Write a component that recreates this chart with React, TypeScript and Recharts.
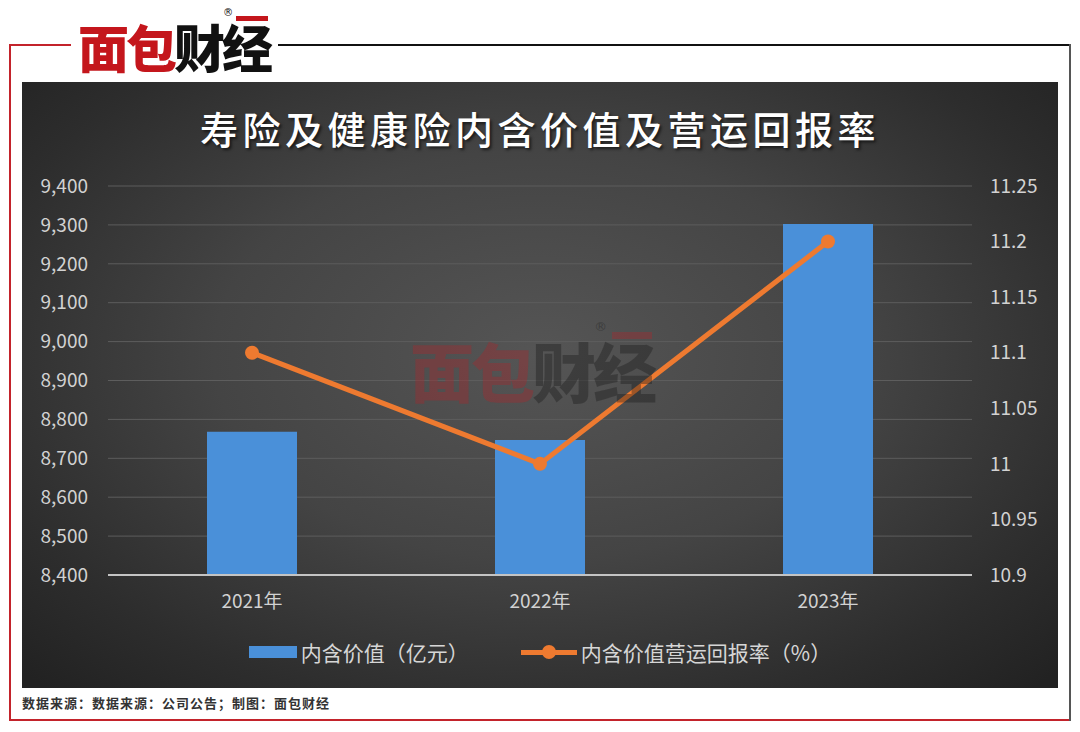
import { Bar, CartesianGrid, ComposedChart, Line, XAxis, YAxis } from "recharts";

const years = ["2021年", "2022年", "2023年"];
const embeddedValue = [8768, 8747, 9302];
const operatingReturn = [11.1, 11.0, 11.2];
const leftTicks = [8400, 8500, 8600, 8700, 8800, 8900, 9000, 9100, 9200, 9300, 9400];
const rightTicks = [10.9, 10.95, 11, 11.05, 11.1, 11.15, 11.2, 11.25];

const barName = "内含价值（亿元）";
const lineName = "内含价值营运回报率（%）";
const title = "寿险及健康险内含价值及营运回报率";
const footer = "数据来源：数据来源：公司公告；制图：面包财经";

const chartData = years.map((year, i) => ({
  year,
  ev: embeddedValue[i],
  rate: operatingReturn[i],
}));

const FONT = '"Noto Sans CJK SC", "Noto Sans", sans-serif';
const LOGO_FONT = '"DejaVu Sans", "Noto Sans CJK SC", sans-serif';
const BLUE = "#4a90d9";
const ORANGE = "#ee7a30";
const TICK = { fill: "#d2d2d2", fontSize: 19, fontFamily: FONT };

// brand mark, drawn as text
function Logo({ size, red, dark, left, top }: { size: number; red: string; dark: string; left: number; top: number }) {
  return (
    <div
      style={{
        position: "absolute",
        left,
        top,
        fontFamily: LOGO_FONT,
        fontWeight: 900,
        fontSize: size,
        lineHeight: `${size}px`,
        letterSpacing: -3,
        whiteSpace: "nowrap",
        pointerEvents: "none",
      }}
    >
      <span style={{ color: red }}>面包</span>
      <span style={{ color: dark }}>财经</span>
      <span
        style={{
          position: "absolute",
          right: size * 0.78,
          top: -size * 0.34,
          fontSize: size * 0.2,
          lineHeight: 1,
          fontWeight: 400,
          color: dark,
        }}
      >
        ®
      </span>
      <span
        style={{
          position: "absolute",
          right: 2,
          top: -size * 0.17,
          width: size * 0.62,
          height: size * 0.1,
          background: red,
        }}
      />
    </div>
  );
}

export default function App() {
  return (
    <div
      style={{
        position: "absolute",
        left: 0,
        top: 0,
        width: 1080,
        height: 732,
        background: "#fff",
        overflow: "hidden",
        fontFamily: FONT,
      }}
    >
      {/* frame */}
      <div style={{ position: "absolute", left: 9, top: 44, width: 62, height: 2, background: "#c3232b" }} />
      <div style={{ position: "absolute", left: 9, top: 44, width: 2, height: 677, background: "#c3232b" }} />
      <div style={{ position: "absolute", left: 9, top: 719, width: 1062, height: 2, background: "#c3232b" }} />
      <div style={{ position: "absolute", left: 278, top: 44, width: 793, height: 2, background: "#111" }} />
      <div style={{ position: "absolute", left: 1069, top: 44, width: 2, height: 677, background: "#555" }} />

      <Logo size={51} red="#c4161c" dark="#111" left={78} top={25} />

      {/* dark panel */}
      <div
        style={{
          position: "absolute",
          left: 22,
          top: 82,
          width: 1036,
          height: 606,
          background: "radial-gradient(ellipse 70% 75% at 50% 45%, #555 0%, #444 45%, #2d2d2d 80%, #222 100%)",
        }}
      >
        <div
          style={{
            position: "absolute",
            left: 0,
            top: 22,
            width: 1036,
            textAlign: "center",
            color: "#fff",
            fontSize: 38,
            lineHeight: "48px",
            fontWeight: 500,
            letterSpacing: 4.5,
            textShadow: "2px 2px 3px rgba(0,0,0,0.6)",
          }}
        >
          {title}
        </div>

        <ComposedChart
          width={1036}
          height={606}
          data={chartData}
          margin={{ top: 104, right: 0, bottom: 0, left: 0 }}
          barCategoryGap="34%"
        >
          <CartesianGrid yAxisId="left" vertical={false} stroke="#5d5d5d" strokeWidth={1} />
          <XAxis
            dataKey="year"
            height={113}
            tick={TICK}
            tickLine={false}
            tickSize={6}
            tickMargin={14}
            axisLine={{ stroke: "#c4c4c4", strokeWidth: 2 }}
          />
          <YAxis
            yAxisId="left"
            width={86}
            domain={[8400, 9400]}
            ticks={leftTicks}
            tick={TICK}
            tickLine={false}
            axisLine={false}
            tickMargin={14}
            tickFormatter={(v: number) => v.toLocaleString("en-US")}
          />
          <YAxis
            yAxisId="right"
            orientation="right"
            width={86}
            domain={[10.9, 11.25]}
            ticks={rightTicks}
            tick={{ ...TICK, textAnchor: "start" }}
            tickLine={false}
            axisLine={false}
            tickMargin={12}
            tickFormatter={(v: number) => String(Number(v.toFixed(2)))}
          />
          <Bar yAxisId="left" dataKey="ev" name={barName} fill={BLUE} barSize={90} isAnimationActive={false} />
          <Line
            yAxisId="right"
            dataKey="rate"
            name={lineName}
            type="linear"
            stroke={ORANGE}
            strokeWidth={5}
            dot={{ r: 7, fill: ORANGE, stroke: "none" }}
            activeDot={false}
            isAnimationActive={false}
          />
        </ComposedChart>

        {/* legend */}
        <div
          style={{
            position: "absolute",
            left: 0,
            top: 556,
            width: 1036,
            display: "flex",
            justifyContent: "center",
            alignItems: "center",
            color: "#d6d6d6",
            fontSize: 21,
            lineHeight: "28px",
          }}
        >
          <span style={{ display: "inline-block", width: 48, height: 12, background: BLUE, marginRight: 4 }} />
          <span>{barName}</span>
          <span style={{ position: "relative", display: "inline-block", width: 56, height: 14, marginLeft: 52, marginRight: 4 }}>
            <span style={{ position: "absolute", left: 0, top: 5, width: 56, height: 5, background: ORANGE }} />
            <span
              style={{ position: "absolute", left: 21, top: 0, width: 14, height: 14, borderRadius: 7, background: ORANGE }}
            />
          </span>
          <span>{lineName}</span>
        </div>
      </div>

      {/* watermark */}
      <div style={{ opacity: 0.5 }}>
        <Logo size={64} red="rgba(170,40,45,0.75)" dark="rgba(25,25,25,0.75)" left={410} top={343} />
      </div>

      <div
        style={{
          position: "absolute",
          left: 22,
          top: 694,
          fontSize: 13,
          lineHeight: "18px",
          letterSpacing: 1,
          fontWeight: 700,
          color: "#333",
        }}
      >
        {footer}
      </div>
    </div>
  );
}
